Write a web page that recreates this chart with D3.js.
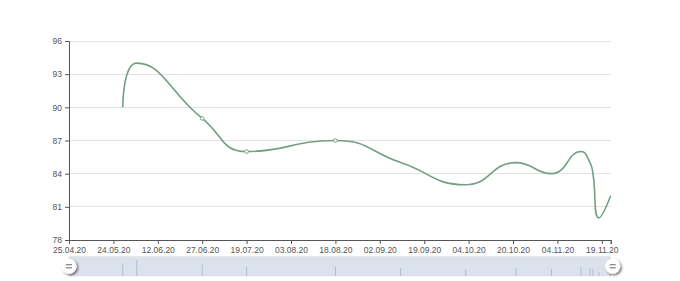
<!DOCTYPE html>
<html><head><meta charset="utf-8">
<script src="https://cdn.jsdelivr.net/npm/d3@7/dist/d3.min.js"></script>
<style>
html,body{margin:0;padding:0;background:#fff;}
svg{display:block;font-family:"Liberation Sans",sans-serif;}
</style></head>
<body><svg id="chart" width="680" height="281"></svg>
<script>
// ---- data ----
const tickLabels = ["25.04.20","24.05.20","12.06.20","27.06.20","19.07.20","03.08.20","18.08.20","02.09.20","19.09.20","04.10.20","20.10.20","04.11.20","19.11.20"];
const axisEnd = "22.11.20";
const dates  = ["28.05.20","03.06.20","27.06.20","19.07.20","18.08.20","10.09.20","03.10.20","21.10.20","02.11.20","12.11.20","15.11.20","16.11.20","18.11.20","22.11.20"];
const values = [90, 94, 89, 86, 87, 85, 83, 85, 84, 86, 85, 84, 80, 82];
const markerDates = ["27.06.20","19.07.20","18.08.20"];
const yTicks = [78, 81, 84, 87, 90, 93, 96];

// ---- layout ----
const W = 680, H = 281;
const m = {left: 69, right: 69.3, top: 41, bottom: 41};
const iw = W - m.left - m.right, ih = H - m.top - m.bottom;
const parse = d3.timeParse("%d.%m.%y");
const tickDates = tickLabels.map(parse);
const endDate = parse(axisEnd);

// category-style axis: tick labels equally spaced, dates placed between them
const lastGapDays = (endDate - tickDates[tickDates.length-1]) / 864e5;
const prevGapDays = (tickDates[tickDates.length-1] - tickDates[tickDates.length-2]) / 864e5;
const nSteps = (tickDates.length - 1) + lastGapDays / prevGapDays;
const step = iw / nSteps;
const x = d3.scaleTime()
  .domain([...tickDates, endDate])
  .range([...tickDates.map((d, i) => i * step), iw]);
const y = d3.scaleLinear().domain([78, 96]).range([ih, 0]);

const svg = d3.select("#chart");
const defs = svg.append("defs");
const f = defs.append("filter").attr("id","hs").attr("x","-50%").attr("y","-50%").attr("width","200%").attr("height","200%");
f.append("feDropShadow").attr("dx",1.5).attr("dy",1.5).attr("stdDeviation",1.3).attr("flood-color","rgba(0,0,0,0.55)");

const g = svg.append("g").attr("transform", `translate(${m.left},${m.top})`);

// grid lines
g.append("g").selectAll("line").data(yTicks.slice(1)).join("line")
  .attr("x1", 0).attr("x2", iw)
  .attr("y1", d => y(d)).attr("y2", d => y(d))
  .attr("stroke", "#e3e3e3").attr("stroke-width", 1).attr("shape-rendering","crispEdges");

// y axis
const yAxis = g.append("g").call(d3.axisLeft(y).tickValues(yTicks).tickSize(4).tickPadding(3));
// x axis
const xAxis = g.append("g").attr("transform", `translate(0,${ih})`)
  .call(d3.axisBottom(x).tickValues([...tickDates, endDate]).tickSize(4).tickPadding(2.7)
    .tickFormat((d, i) => i < tickLabels.length ? tickLabels[i] : ""));
[yAxis, xAxis].forEach(a => {
  a.select(".domain").attr("stroke", "#555");
  a.selectAll(".tick line").attr("stroke", "#555");
  a.selectAll("text").attr("fill", "#555").attr("font-size", "8.5px").attr("font-family", "'Liberation Sans',sans-serif");
});

// ECharts-like smoothing curve
function EcSmooth(ctx){ this._context = ctx; }
EcSmooth.prototype = {
  areaStart(){}, areaEnd(){},
  lineStart(){ this._pts = []; },
  point(px, py){ this._pts.push([+px, +py]); },
  lineEnd(){
    const p = this._pts, ctx = this._context, s = 0.5, n = p.length;
    let cpx0, cpy0, prevX, prevY;
    const mn = Math.min, mx = Math.max;
    for (let i = 0; i < n; i++) {
      const [px, py] = p[i];
      if (i === 0) { ctx.moveTo(px, py); cpx0 = px; cpy0 = py; }
      else {
        let cpx1, cpy1, ncx, ncy;
        if (i === n - 1) { cpx1 = px; cpy1 = py; }
        else {
          const [nx, ny] = p[i+1];
          let vx = nx - prevX, vy = ny - prevY;
          const lp = Math.hypot(px - prevX, py - prevY), ln = Math.hypot(nx - px, ny - py);
          const r = ln / (ln + lp);
          ncx = px + vx * s * r; ncy = py + vy * s * r;
          ncx = mx(mn(ncx, mx(nx, px)), mn(nx, px));
          ncy = mx(mn(ncy, mx(ny, py)), mn(ny, py));
          vx = ncx - px; vy = ncy - py;
          cpx1 = px - vx * lp / ln; cpy1 = py - vy * lp / ln;
          cpx1 = mx(mn(cpx1, mx(prevX, px)), mn(prevX, px));
          cpy1 = mx(mn(cpy1, mx(prevY, py)), mn(prevY, py));
          vx = px - cpx1; vy = py - cpy1;
          ncx = px + vx * ln / lp; ncy = py + vy * ln / lp;
        }
        ctx.bezierCurveTo(cpx0, cpy0, cpx1, cpy1, px, py);
        cpx0 = ncx; cpy0 = ncy;
      }
      prevX = px; prevY = py;
    }
  }
};
const curveEc = ctx => new EcSmooth(ctx);

const pts = dates.map((d, i) => ({date: parse(d), value: values[i]}));
const color = "#749f83";
g.append("path").datum(pts)
  .attr("fill", "none").attr("stroke", color).attr("stroke-width", 1.6)
  .attr("d", d3.line().x(d => x(d.date)).y(d => y(d.value)).curve(curveEc));

g.append("g").selectAll("circle").data(pts.filter(d => markerDates.includes(d3.timeFormat("%d.%m.%y")(d.date)))).join("circle")
  .attr("cx", d => x(d.date)).attr("cy", d => y(d.value)).attr("r", 1.8)
  .attr("fill", "#fff").attr("stroke", color).attr("stroke-width", 1);

// ---- data zoom slider ----
const sTop = 256.5, sH = 19.5;
const sg = svg.append("g").attr("transform", `translate(${m.left},${sTop})`);
sg.append("rect").attr("x", 0).attr("y", 0).attr("width", iw).attr("height", sH)
  .attr("fill", "rgba(167,183,204,0.4)").attr("stroke", "#ddd").attr("stroke-width", 0.5);
const ext = d3.extent(values), off = (ext[1] - ext[0]) * 0.3;
const ys = d3.scaleLinear().domain([ext[0] - off, ext[1] + off]).range([sH, 0]);
sg.append("g").selectAll("line").data(pts).join("line")
  .attr("x1", d => x(d.date)).attr("x2", d => x(d.date))
  .attr("y1", sH).attr("y2", d => ys(d.value))
  .attr("stroke", "rgba(47,69,84,0.3)").attr("stroke-width", 0.8);

[0, iw + 2].forEach(hx => {
  const h = sg.append("g").attr("transform", `translate(${hx},${sH/2})`);
  h.append("circle").attr("r", 7.6).attr("fill", "#fff").attr("filter", "url(#hs)");
  h.append("rect").attr("x", -3).attr("y", -2.2).attr("width", 6).attr("height", 1.3).attr("fill", "#8a8a8a");
  h.append("rect").attr("x", -3).attr("y", 0.9).attr("width", 6).attr("height", 1.3).attr("fill", "#8a8a8a");
});
</script></body></html>
